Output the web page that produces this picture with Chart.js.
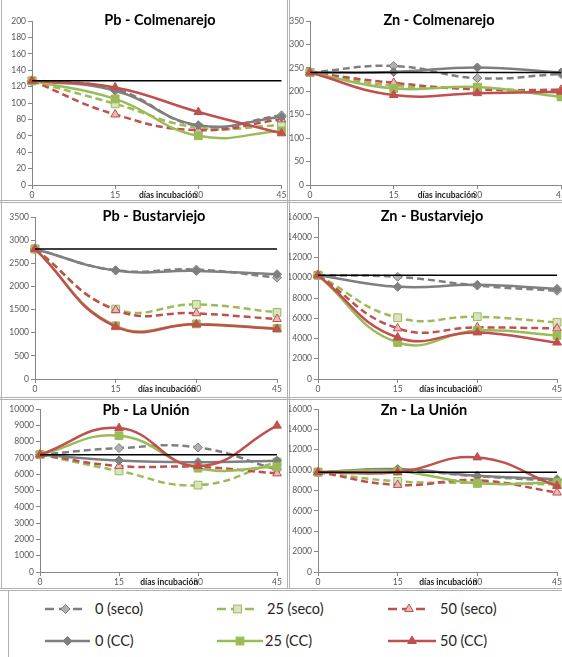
<!DOCTYPE html>
<html lang="es">
<head>
<meta charset="utf-8">
<title>Pb y Zn - días incubación</title>
<script src="https://cdn.jsdelivr.net/npm/chart.js@4.4.1/dist/chart.umd.min.js"></script>
<style>
html,body{margin:0;padding:0;background:#fff;}
body{width:562px;height:657px;overflow:hidden;position:relative;font-family:Lato,"Open Sans",sans-serif;}
canvas{position:absolute;}
.ln{position:absolute;background:#b0b0b0;}
.leg{position:absolute;font-size:14.5px;color:#262626;line-height:16px;white-space:nowrap;}
svg{position:absolute;overflow:visible;}
</style>
</head>
<body>
<script>
// ---------------- DATA ----------------
const days = ['0', '15', '30', '45'];
const seriesNames = ['0 (seco)', '25 (seco)', '50 (seco)', '0 (CC)', '25 (CC)', '50 (CC)'];
const panelTitles = ['Pb - Colmenarejo', 'Zn - Colmenarejo', 'Pb - Bustarviejo', 'Zn - Bustarviejo', 'Pb - La Unión', 'Zn - La Unión'];
const xAxisTitle = 'días incubación';
const yMax  = [200, 350, 3500, 16000, 10000, 16000];
const yStep = [20, 50, 500, 2000, 1000, 2000];

// Pb - Colmenarejo
const pbCol_ref    = [127, 127, 127, 127];
const pbCol_0seco  = [127, 117, 72, 85];
const pbCol_25seco = [127, 99, 70, 73];
const pbCol_50seco = [127, 86, 67, 80];
const pbCol_0cc    = [127, 115, 73, 83];
const pbCol_25cc   = [127, 105, 60, 66];
const pbCol_50cc   = [127, 119, 89, 63];

// Zn - Colmenarejo
const znCol_ref    = [240, 240, 240, 240];
const znCol_0seco  = [240, 254, 228, 237];
const znCol_25seco = [240, 212, 207, 197];
const znCol_50seco = [240, 218, 204, 203];
const znCol_0cc    = [240, 241, 251, 240];
const znCol_25cc   = [240, 206, 209, 188];
const znCol_50cc   = [240, 192, 196, 199];

// Pb - Bustarviejo
const pbBus_ref    = [2810, 2810, 2810, 2810];
const pbBus_0seco  = [2810, 2350, 2365, 2190];
const pbBus_25seco = [2810, 1510, 1610, 1440];
const pbBus_50seco = [2810, 1490, 1420, 1295];
const pbBus_0cc    = [2810, 2345, 2335, 2265];
const pbBus_25cc   = [2810, 1150, 1190, 1095];
const pbBus_50cc   = [2810, 1130, 1180, 1080];

// Zn - Bustarviejo
const znBus_ref    = [10250, 10250, 10250, 10250];
const znBus_0seco  = [10250, 10090, 9230, 8710];
const znBus_25seco = [10250, 6050, 6150, 5600];
const znBus_50seco = [10250, 5000, 5100, 5000];
const znBus_0cc    = [10250, 9100, 9300, 8900];
const znBus_25cc   = [10250, 3600, 4800, 4300];
const znBus_50cc   = [10250, 4100, 4600, 3600];

// Pb - La Unión
const pbUni_ref    = [7200, 7200, 7200, 7200];
const pbUni_0seco  = [7200, 7600, 7640, 6280];
const pbUni_25seco = [7200, 6200, 5330, 6750];
const pbUni_50seco = [7200, 6500, 6450, 6050];
const pbUni_0cc    = [7200, 6840, 6740, 6830];
const pbUni_25cc   = [7200, 8360, 6370, 6450];
const pbUni_50cc   = [7200, 8830, 6500, 8980];

// Zn - La Unión
const znUni_ref    = [9800, 9800, 9800, 9800];
const znUni_0seco  = [9800, 10000, 9400, 8950];
const znUni_25seco = [9800, 8900, 8750, 8600];
const znUni_50seco = [9800, 8550, 9000, 7800];
const znUni_0cc    = [9800, 10100, 9450, 9100];
const znUni_25cc   = [9800, 9900, 8700, 8800];
const znUni_50cc   = [9800, 9800, 11250, 8450];

const panelRefs = [pbCol_ref, znCol_ref, pbBus_ref, znBus_ref, pbUni_ref, znUni_ref];
const panelSeries = [
  [pbCol_0seco, pbCol_25seco, pbCol_50seco, pbCol_0cc, pbCol_25cc, pbCol_50cc],
  [znCol_0seco, znCol_25seco, znCol_50seco, znCol_0cc, znCol_25cc, znCol_50cc],
  [pbBus_0seco, pbBus_25seco, pbBus_50seco, pbBus_0cc, pbBus_25cc, pbBus_50cc],
  [znBus_0seco, znBus_25seco, znBus_50seco, znBus_0cc, znBus_25cc, znBus_50cc],
  [pbUni_0seco, pbUni_25seco, pbUni_50seco, pbUni_0cc, pbUni_25cc, pbUni_50cc],
  [znUni_0seco, znUni_25seco, znUni_50seco, znUni_0cc, znUni_25cc, znUni_50cc]
];

// ---------------- LAYOUT / STYLE ----------------
const FONT = 'Lato, "Open Sans", sans-serif';
const GRAY = '#7f7f7f', GREEN = '#9bbb59', RED = '#c0504d';
const seriesStyle = [
  {color: GRAY,  dash: [7, 4], point: 'rectRot',  r: 4.5, fill: '#b0b0b0'},
  {color: GREEN, dash: [7, 4], point: 'rect',     r: 5.5, fill: '#d7e4bd'},
  {color: RED,   dash: [7, 4], point: 'triangle', r: 5,   fill: '#e6b9b8'},
  {color: GRAY,  dash: [],     point: 'rectRot',  r: 4.5, fill: GRAY},
  {color: GREEN, dash: [],     point: 'rect',     r: 5.5, fill: GREEN},
  {color: RED,   dash: [],     point: 'triangle', r: 5,   fill: RED}
];
const drawOrder = [6, 5, 4, 3, 2, 1];

// canvas rect (x,y,w,h) and plot area (l,t,r,b) in page pixels, title centre (tx,ty)
const boxes = [
  {x: 0,   y: 0,   w: 288, h: 200, l: 32,  t: 21,  r: 283, b: 185, tx: 160, ty: 20},
  {x: 289, y: 0,   w: 290, h: 200, l: 310, t: 21,  r: 561, b: 185, tx: 439, ty: 20},
  {x: 0,   y: 202, w: 288, h: 196, l: 35,  t: 217, r: 277, b: 379, tx: 154, ty: 216},
  {x: 289, y: 202, w: 290, h: 196, l: 318, t: 217, r: 557, b: 379, tx: 432, ty: 216},
  {x: 0,   y: 399, w: 288, h: 189, l: 40,  t: 409, r: 277, b: 572, tx: 146, ty: 410},
  {x: 289, y: 399, w: 290, h: 189, l: 318, t: 409, r: 557, b: 572, tx: 424, ty: 410}
];

// frame lines
const frameLines = [
  [0, 200, 562, 1], [0, 202, 562, 1], [0, 397, 562, 1], [0, 399, 562, 1],
  [0, 588, 562, 1], [0, 590, 562, 1], [287, 0, 1, 588], [289, 0, 1, 588],
  [1, 0, 1, 588], [8, 590, 1, 67]
];
frameLines.forEach(([x, y, w, h]) => {
  const d = document.createElement('div');
  d.className = 'ln';
  d.style.cssText = `left:${x}px;top:${y}px;width:${w}px;height:${h}px;`;
  document.body.appendChild(d);
});

const titlePlugin = {
  id: 'panelText',
  afterDraw(chart) {
    const o = chart.options.plugins.panelText;
    const ctx = chart.ctx, ca = chart.chartArea;
    ctx.save();
    ctx.fillStyle = '#000';
    ctx.textAlign = 'center';
    ctx.textBaseline = 'middle';
    ctx.font = `bold 14.5px ${FONT}`;
    ctx.fillText(o.title, o.tx, o.ty);
    ctx.font = `bold 8.5px ${FONT}`;
    ctx.fillStyle = '#1a1a1a';
    ctx.fillText(o.xTitle, ca.left + 0.545 * (ca.right - ca.left), ca.bottom + 10.5);
    ctx.restore();
  }
};

boxes.forEach((B, i) => {
  const cv = document.createElement('canvas');
  cv.width = B.w; cv.height = B.h;
  cv.style.cssText = `left:${B.x}px;top:${B.y}px;width:${B.w}px;height:${B.h}px;`;
  document.body.appendChild(cv);

  const yAxisW = B.l - B.x;
  const xAxisH = (B.y + B.h) - B.b;
  const padT = B.t - B.y;
  const padR = (B.x + B.w) - B.r;

  const datasets = [{
    label: 'ref',
    data: panelRefs[i],
    borderColor: '#000',
    borderWidth: 1.5,
    pointRadius: 0,
    tension: 0,
    order: 0
  }];
  panelSeries[i].forEach((vals, k) => {
    const s = seriesStyle[k];
    datasets.push({
      label: seriesNames[k],
      data: vals,
      borderColor: s.color,
      borderWidth: 2.5,
      borderDash: s.dash,
      pointStyle: s.point,
      pointRadius: s.r,
      pointBackgroundColor: s.fill,
      pointBorderColor: s.color,
      pointBorderWidth: 1,
      tension: 0.45,
      order: drawOrder[k]
    });
  });

  const gridOpts = {display: true, drawOnChartArea: false, drawTicks: true, tickLength: 4, color: '#868686'};
  const tickFont = {family: FONT, size: 8.5};

  new Chart(cv, {
    type: 'line',
    data: {labels: days, datasets},
    plugins: [titlePlugin],
    options: {
      responsive: false,
      animation: false,
      events: [],
      datasets: {line: {clip: false}},
      layout: {padding: {left: 0, top: padT, right: padR, bottom: 0}},
      plugins: {
        legend: {display: false},
        tooltip: {enabled: false},
        title: {display: false},
        panelText: {title: panelTitles[i], xTitle: xAxisTitle, tx: B.tx - B.x, ty: B.ty - B.y}
      },
      scales: {
        x: {
          type: 'category',
          offset: false,
          grid: gridOpts,
          border: {display: true, color: '#868686', width: 1},
          ticks: {font: tickFont, color: '#595959', padding: 1, maxRotation: 0, autoSkip: false},
          afterFit(s) { s.height = xAxisH; s.paddingLeft = 0; s.paddingRight = 0; }
        },
        y: {
          min: 0,
          max: yMax[i],
          grid: gridOpts,
          border: {display: true, color: '#868686', width: 1},
          ticks: {stepSize: yStep[i], font: tickFont, color: '#595959', padding: 2, autoSkip: false,
                  callback: (v) => String(v)},
          afterFit(s) { s.width = yAxisW; s.paddingTop = 0; s.paddingBottom = 0; }
        }
      }
    }
  });
});

// ---------------- LEGEND ----------------
const legendPos = [
  {x1: 45,  x2: 86,  tx: 95,  y: 609},
  {x1: 217, x2: 258, tx: 267, y: 609},
  {x1: 388, x2: 430, tx: 440, y: 609},
  {x1: 45,  x2: 90,  tx: 95,  y: 641},
  {x1: 217, x2: 263, tx: 265, y: 641},
  {x1: 388, x2: 436, tx: 440, y: 641}
];
function markerSvg(s, cx, cy) {
  const r = s.r;
  if (s.point === 'rectRot') {
    return `<polygon points="${cx},${cy - r} ${cx + r},${cy} ${cx},${cy + r} ${cx - r},${cy}" fill="${s.fill}" stroke="${s.color}" stroke-width="1"/>`;
  } else if (s.point === 'rect') {
    const h = r * Math.SQRT1_2;
    return `<rect x="${cx - h}" y="${cy - h}" width="${2 * h}" height="${2 * h}" fill="${s.fill}" stroke="${s.color}" stroke-width="1"/>`;
  }
  return `<polygon points="${cx},${cy - r} ${cx + r * 0.866},${cy + r * 0.5} ${cx - r * 0.866},${cy + r * 0.5}" fill="${s.fill}" stroke="${s.color}" stroke-width="1"/>`;
}
legendPos.forEach((p, k) => {
  const s = seriesStyle[k];
  const w = p.x2 - p.x1;
  const svg = document.createElementNS('http://www.w3.org/2000/svg', 'svg');
  svg.setAttribute('width', w);
  svg.setAttribute('height', 14);
  svg.style.left = p.x1 + 'px';
  svg.style.top = (p.y - 7) + 'px';
  svg.innerHTML =
    `<line x1="0" y1="7" x2="${w}" y2="7" stroke="${s.color}" stroke-width="2.5" ${s.dash.length ? 'stroke-dasharray="9 5"' : ''}/>` +
    markerSvg(s, w / 2, 7);
  document.body.appendChild(svg);
  const t = document.createElement('div');
  t.className = 'leg';
  t.textContent = seriesNames[k];
  t.style.left = p.tx + 'px';
  t.style.top = (p.y - 8) + 'px';
  document.body.appendChild(t);
});
</script>
</body>
</html>
